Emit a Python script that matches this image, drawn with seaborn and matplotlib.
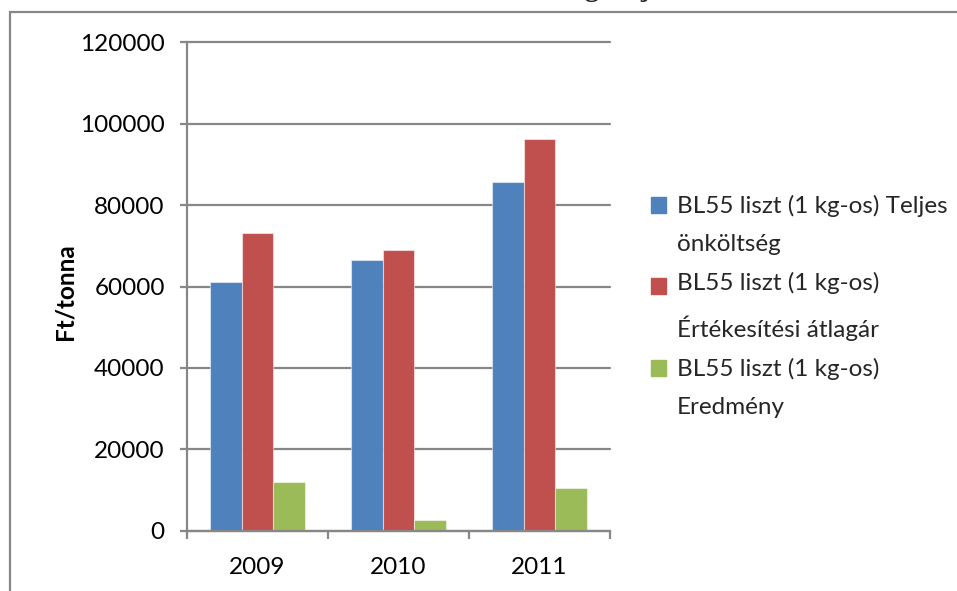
import matplotlib
matplotlib.use("Agg")
import matplotlib.pyplot as plt
import matplotlib.patches as mpatches
from matplotlib.legend_handler import HandlerPatch
import seaborn as sns
import pandas as pd

years = ["2009", "2010", "2011"]
series_names = [
    "BL55 liszt (1 kg-os) Teljes\nönköltség",
    "BL55 liszt (1 kg-os)\nÉrtékesítési átlagár",
    "BL55 liszt (1 kg-os)\nEredmény",
]
teljes_onkoltseg = [61200, 66400, 85700]
ertekesitesi_atlagar = [73200, 69000, 96300]
eredmeny = [11900, 2600, 10500]
y_ticks = [0, 20000, 40000, 60000, 80000, 100000, 120000]
y_label = "Ft/tonna"
colors = ["#4F81BD", "#C0504D", "#9BBB59"]

rows = []
for name, vals in zip(series_names, [teljes_onkoltseg, ertekesitesi_atlagar, eredmeny]):
    for yr, v in zip(years, vals):
        rows.append({"year": yr, "series": name, "value": v})
df = pd.DataFrame(rows)

sns.set_theme(style="white")
plt.rcParams["font.family"] = ["Lato", "DejaVu Sans"]

W, H = 957, 591
fig = plt.figure(figsize=(W / 100, H / 100), dpi=100)
ax = fig.add_axes([187 / W, 1 - 530.5 / H, 423 / W, 488 / H])

sns.barplot(data=df, x="year", y="value", hue="series", order=years,
            hue_order=series_names, palette=colors, width=0.667,
            saturation=1, ax=ax, legend=False, linewidth=0.8,
            edgecolor=(1, 1, 1, 0.5))

grey = "#878787"
ax.set_ylim(0, 120000)
ax.set_xlim(-0.5, 2.5)
ax.set_yticks(y_ticks)
ax.set_yticklabels([str(t) for t in y_ticks])
ax.yaxis.grid(True, color=grey, linewidth=1.6)
for gl in ax.get_ygridlines():
    gl.set_clip_on(False)
ax.set_axisbelow(True)
for s in ["top", "right"]:
    ax.spines[s].set_visible(False)
for s in ["left", "bottom"]:
    ax.spines[s].set_color(grey)
    ax.spines[s].set_linewidth(1.6)

ax.set_xticks([-0.5, 0.5, 1.5, 2.5])
ax.set_xticklabels([])
ax.set_xticks([0, 1, 2], minor=True)
ax.set_xticklabels(years, minor=True)
ax.tick_params(axis="x", which="major", direction="out", length=6,
               width=1.6, color=grey, bottom=True)
ax.tick_params(axis="x", which="minor", length=0, pad=19, labelsize=17.5,
               labelcolor="black", bottom=True)
ax.tick_params(axis="y", direction="out", length=5, width=1.6, color=grey,
               left=True, pad=11, labelsize=17.5, labelcolor="black")
ax.set_xlabel("")
ax.set_ylabel(y_label, fontsize=17.5, fontweight="bold", color="black")
ax.yaxis.set_label_coords(-0.262, 0.49)

LINE_SHIFT = 14.6  # points: half of the line distance, puts square at first line


def top_square(legend, orig_handle, xdescent, ydescent, width, height, fontsize):
    return mpatches.Rectangle((-xdescent, -ydescent + LINE_SHIFT), width, height)


handles = [mpatches.Patch(color=c, label=n) for c, n in zip(colors, series_names)]
leg = fig.legend(handles=handles, loc="upper left",
                 bbox_to_anchor=(651 / W, 1 - 195 / H),
                 frameon=False, fontsize=17.5, handlelength=0.62, handleheight=0.62,
                 handletextpad=0.45, labelspacing=0.7, borderaxespad=0,
                 borderpad=0,
                 handler_map={mpatches.Patch: HandlerPatch(patch_func=top_square)})
for t in leg.get_texts():
    t.set_linespacing(2.0)

# outer chart-area border (clipped on right and bottom)
fig.patches.append(mpatches.Rectangle((10 / W, -0.05), 1.1, 1 - 12 / H + 0.05,
                                      transform=fig.transFigure, fill=False,
                                      edgecolor=grey, linewidth=1.6))
# title, mostly cut off at the top of the image
fig.text(618 / W, 1 + 4.5 / H, "g      j", ha="center", va="baseline",
         fontsize=20, fontweight="bold", family=["Liberation Serif", "DejaVu Serif"])

fig.savefig("out.png", dpi=100)
